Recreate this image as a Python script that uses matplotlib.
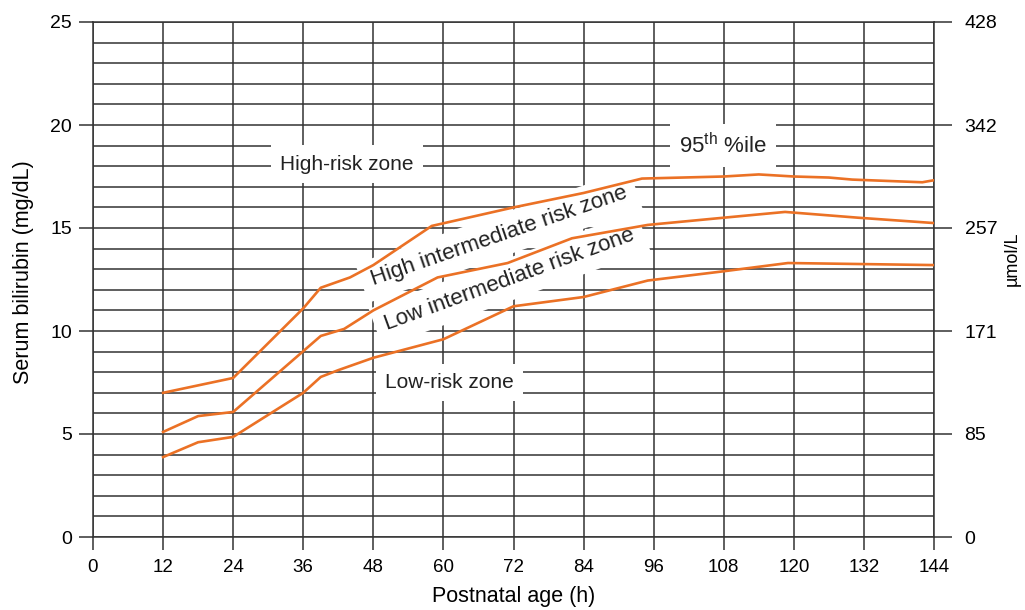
import numpy as np
import matplotlib.pyplot as plt
from matplotlib.ticker import MultipleLocator

plt.rcParams['font.family'] = ['Liberation Sans', 'DejaVu Sans']
plt.rcParams['mathtext.fontset'] = 'custom'
plt.rcParams['mathtext.rm'] = 'Liberation Sans'

# ---- datos ----
horas_p95 = [12, 24, 36, 39, 44, 48, 58, 72, 84, 94, 108, 114, 120, 126, 130, 142, 144]
bili_p95 = [7.0, 7.72, 11.1, 12.1, 12.6, 13.2, 15.1, 16.0, 16.7, 17.4, 17.5, 17.6, 17.5, 17.45, 17.35, 17.22, 17.32]

horas_p75 = [12, 18, 24, 39, 43, 48, 59, 71, 82, 95, 108, 118.5, 131, 144]
bili_p75 = [5.1, 5.87, 6.07, 9.76, 10.1, 11.0, 12.6, 13.3, 14.5, 15.15, 15.5, 15.78, 15.5, 15.24]

horas_p40 = [12, 18, 24, 36, 39, 42, 48, 60, 72, 84, 95, 108, 119, 144]
bili_p40 = [3.88, 4.6, 4.86, 7.0, 7.77, 8.1, 8.7, 9.6, 11.2, 11.65, 12.45, 12.9, 13.3, 13.2]

xticks = list(range(0, 145, 12))
yticks = [0, 5, 10, 15, 20, 25]
umol_labels = ["0", "85", "171", "257", "342", "428"]

zonas = ["High-risk zone", "High intermediate risk zone",
         "Low intermediate risk zone", "Low-risk zone"]
zona_x = [43.5, 69.5, 71.3, 61]
zona_y = [18.1, 14.6, 12.5, 7.5]
zona_rot = [0, 19, 20, 0]
zona_size = [15, 16, 16, 15]

NARANJA = "#eb7125"
GRIS = "#333333"

fig = plt.figure(figsize=(10.25, 6.1), dpi=100)
ax = fig.add_axes([93 / 1025, 1 - 537 / 610, (934 - 93) / 1025, (537 - 22) / 610])

ax.set_xlim(0, 144)
ax.set_ylim(0, 25)
ax.set_xticks(xticks)
ax.set_yticks(yticks)
ax.yaxis.set_minor_locator(MultipleLocator(1))

ax.grid(which="major", axis="x", color=GRIS, linewidth=1.1)
ax.grid(which="both", axis="y", color=GRIS, linewidth=1.1)
ax.set_axisbelow(True)
for s in ax.spines.values():
    s.set_color(GRIS)
    s.set_linewidth(1.1)

ax.tick_params(axis="x", which="major", length=9, width=1.1, color=GRIS,
               labelsize=13.5, pad=7)
ax.tick_params(axis="y", which="major", length=10, width=1.1, color=GRIS,
               labelsize=14, pad=5)
ax.tick_params(axis="y", which="minor", length=0)

# las curvas van por encima de las cajas blancas de los textos
ax.plot(horas_p95, bili_p95, color=NARANJA, lw=1.9, zorder=5)
ax.plot(horas_p75, bili_p75, color=NARANJA, lw=1.9, zorder=5)
ax.plot(horas_p40, bili_p40, color=NARANJA, lw=1.9, zorder=5)

caja = dict(boxstyle="square,pad=0.45", facecolor="white", edgecolor="none")
for txt, x, y, r, fs in zip(zonas, zona_x, zona_y, zona_rot, zona_size):
    ax.text(x, y, txt, fontsize=fs, color="#222222", ha="center", va="center",
            rotation=r, rotation_mode="anchor", bbox=caja, zorder=4)

ax.text(107.9, 19.0, "95$^{\\mathrm{th}}$ %ile", fontsize=16, color="#222222",
        ha="center", va="center", bbox=dict(boxstyle="square,pad=0.4",
        facecolor="white", edgecolor="none"), zorder=4)

ax.set_xlabel("Postnatal age (h)", fontsize=15.5, labelpad=7)
ax.set_ylabel("Serum bilirubin (mg/dL)", fontsize=15.5)
ax.yaxis.set_label_coords(-0.07, 0.515)

# eje derecho en umol/L
ax2 = ax.twinx()
ax2.set_ylim(0, 25)
ax2.set_yticks(yticks)
ax2.set_yticklabels(umol_labels)
ax2.tick_params(axis="y", length=13, width=1.1, color=GRIS, labelsize=14, pad=9)
for s in ax2.spines.values():
    s.set_visible(False)
ax2.set_ylabel("\u00b5mol/L", fontsize=13)
ax2.yaxis.set_label_coords(1.083, 0.54)

fig.savefig("out.png", dpi=100)
